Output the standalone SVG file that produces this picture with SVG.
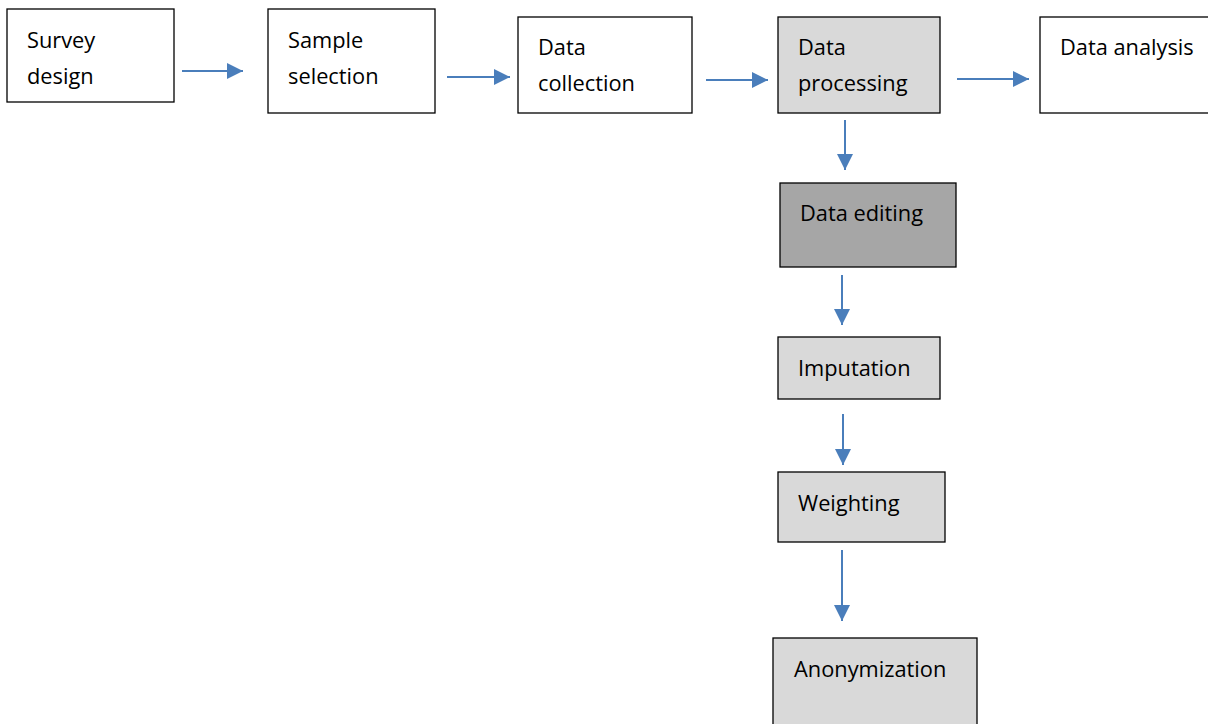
<svg xmlns="http://www.w3.org/2000/svg" width="1208" height="724" viewBox="0 0 1208 724">
<style>
.box{stroke:#000;stroke-width:1.3}
.w{fill:#fff}
.g{fill:#d9d9d9}
.d{fill:#a6a6a6}
.t{font-family:"Open Sans","Noto Sans",sans-serif;font-size:21.8px;fill:#000}
.c{stroke:#4a7ebb;stroke-width:2;fill:none;marker-end:url(#ah)}
</style>
<defs>
<marker id="ah" viewBox="0 0 10 10" refX="10" refY="5" markerWidth="8" markerHeight="8" markerUnits="strokeWidth" orient="auto">
<path d="M0,0 L10,5 L0,10 z" fill="#4a7ebb"/>
</marker>
</defs>
<rect width="1208" height="724" fill="#fff"/>
<g id="survey-design">
<rect class="box w" x="7" y="9" width="167" height="93"/>
<text class="t" x="27" y="48">Survey</text>
<text class="t" x="27" y="84">design</text>
</g>
<g id="sample-selection">
<rect class="box w" x="268" y="9" width="167" height="104"/>
<text class="t" x="288" y="48">Sample</text>
<text class="t" x="288" y="84">selection</text>
</g>
<g id="data-collection">
<rect class="box w" x="518" y="17" width="174" height="96"/>
<text class="t" x="538" y="55">Data</text>
<text class="t" x="538" y="91">collection</text>
</g>
<g id="data-processing">
<rect class="box g" x="778" y="17" width="162" height="96"/>
<text class="t" x="798" y="55">Data</text>
<text class="t" x="798" y="91">processing</text>
</g>
<g id="data-analysis">
<rect class="box w" x="1040" y="17" width="172" height="96"/>
<text class="t" x="1060" y="55">Data analysis</text>
</g>
<g id="data-editing">
<rect class="box d" x="780" y="183" width="176" height="84"/>
<text class="t" x="800" y="221">Data editing</text>
</g>
<g id="imputation">
<rect class="box g" x="778" y="337" width="162" height="62"/>
<text class="t" x="798" y="376">Imputation</text>
</g>
<g id="weighting">
<rect class="box g" x="778" y="472" width="167" height="70"/>
<text class="t" x="798" y="511">Weighting</text>
</g>
<g id="anonymization">
<rect class="box g" x="773" y="638" width="204" height="100"/>
<text class="t" x="794" y="677">Anonymization</text>
</g>
<g id="connectors">
<line class="c" x1="182" y1="71" x2="243" y2="71"/>
<line class="c" x1="447" y1="77" x2="510" y2="77"/>
<line class="c" x1="706" y1="80" x2="768" y2="80"/>
<line class="c" x1="957" y1="79" x2="1029" y2="79"/>
<line class="c" x1="845" y1="120" x2="845" y2="170"/>
<line class="c" x1="842" y1="275" x2="842" y2="325"/>
<line class="c" x1="843" y1="414" x2="843" y2="465"/>
<line class="c" x1="842" y1="550" x2="842" y2="621"/>
</g>
</svg>
